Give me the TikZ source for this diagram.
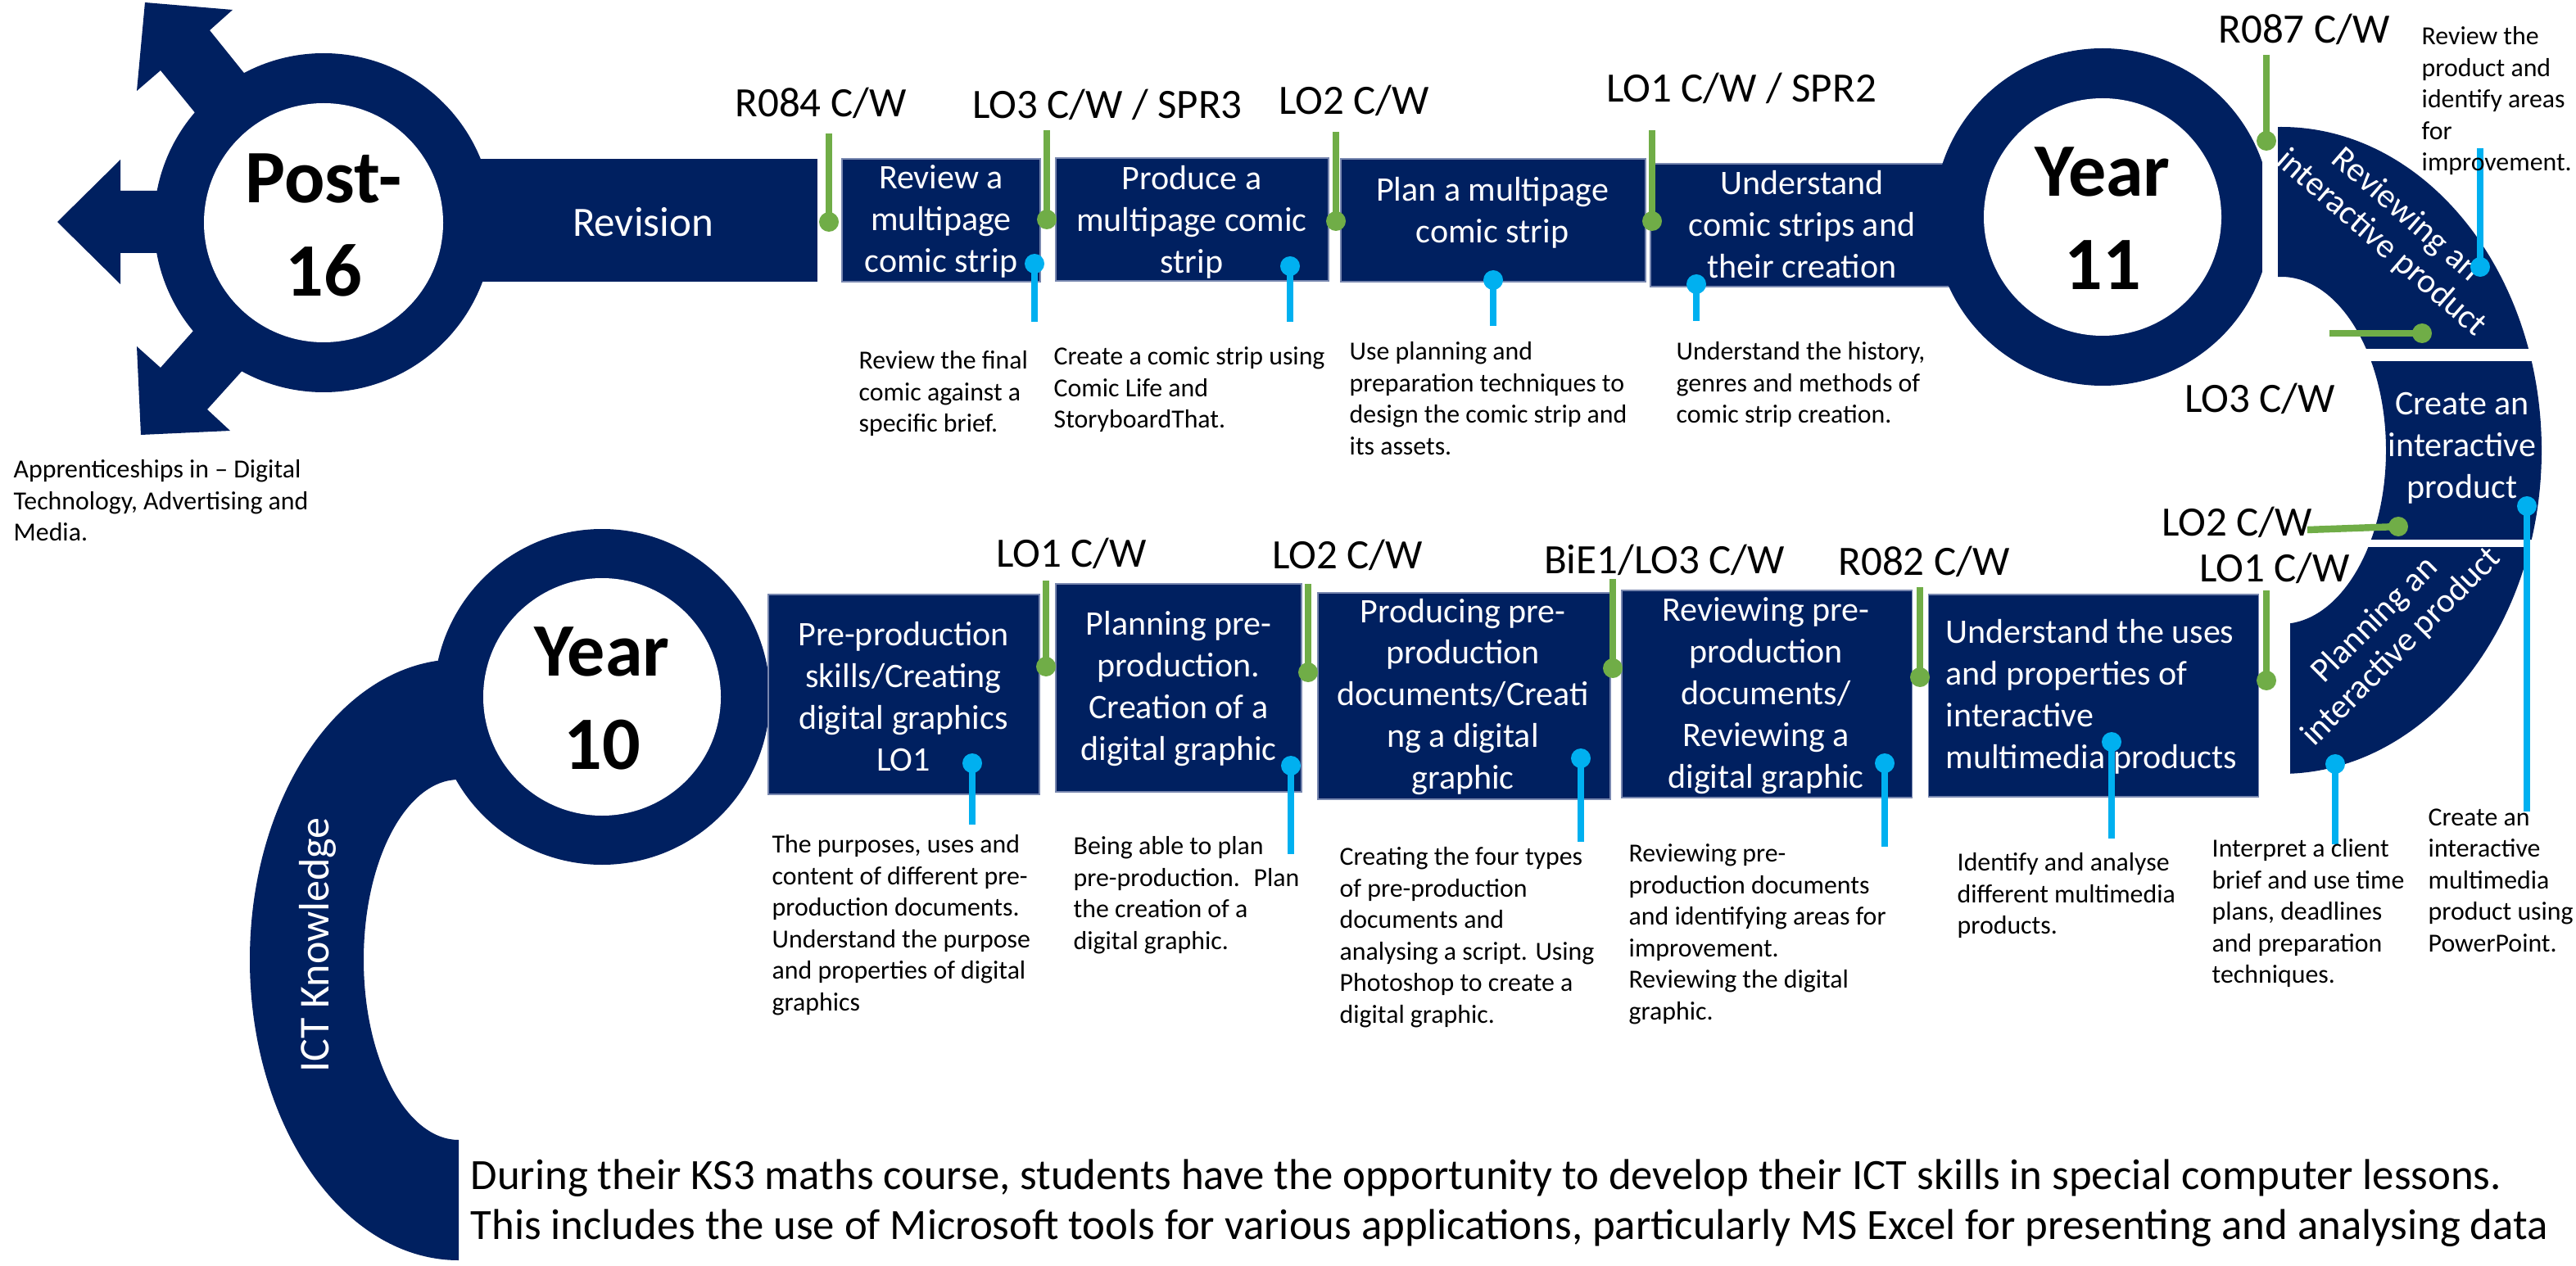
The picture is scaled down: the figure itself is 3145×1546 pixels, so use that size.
\documentclass[tikz,border=0pt]{standalone}
\usepackage{fontspec}
\setmainfont{Carlito}
\definecolor{navy}{HTML}{002060}
\definecolor{pgreen}{HTML}{70AD47}
\definecolor{pblue}{HTML}{00B0F0}
\definecolor{boxedge}{RGB}{120,135,175}
\tikzset{
  boxtxt/.style={text=white, align=center, inner sep=0pt, font=\fontsize{11.95}{14.5}\selectfont},
  lbl/.style={inner sep=0pt, font=\fontsize{14.5}{17}\selectfont},
  desc/.style={inner sep=0pt, align=left, anchor=north west, font=\fontsize{9.05}{10.95}\selectfont},
  yeartxt/.style={inner sep=0pt, align=center, font=\fontsize{26.2}{32.4}\selectfont\bfseries},
  gpin/.style={draw=pgreen, line width=2.4pt},
  bpin/.style={draw=pblue, line width=2.1pt},
  boxfill/.style={fill=navy, draw=boxedge, line width=0.3pt},
}
\begin{document}
\begin{tikzpicture}[x=0.01cm,y=-0.01cm]
\useasboundingbox (0,0) rectangle (3145,1546);
\fill[white] (0,0) rectangle (3145,1546);

% ---------- Post-16 ----------
\fill[navy] (395,233) -- (147,233) -- (147,195) -- (70,271) -- (147,347) -- (147,309) -- (395,309) -- cycle;
\fill[navy] (177,3) -- (284,12) -- (256,37) -- (322,119) -- (262,167) -- (196,86) -- (167,111) -- cycle;
\fill[navy] (172,531) -- (281,526) -- (253,500) -- (319,427) -- (260,377) -- (196,449) -- (167,423) -- cycle;
\fill[navy] (395,194) rectangle (998,344);
\fill[navy] (395,272) circle (207);
\fill[white] (395,272) circle (146);
\node[yeartxt] (post) at (395,275) {Post-\\16};
\node[text=white, inner sep=0pt, font=\fontsize{14.5}{17}\selectfont] (rev) at (785,271) {Revision};
\node[desc] (d13) at (16,561) {Apprenticeships in – Digital\\Technology, Advertising and\\Media.};

% ---------- top row boxes ----------
\path[boxfill] (1028,194) rectangle (1270,344);
\path[boxfill] (1289,193) rectangle (1622,343);
\path[boxfill] (1637,194) rectangle (2009,344);
\path[boxfill] (2015,200) rectangle (2566,350);
\node[boxtxt] (t1) at (1149,270) {Review a\\multipage\\comic strip};
\node[boxtxt] (t2) at (1455,271) {Produce a\\multipage comic\\strip};
\node[boxtxt] (t3) at (1822,260) {Plan a multipage\\comic strip};

% ---------- Year 11 ----------
\fill[navy] (2567,265) circle (206);
\fill[white] (2567,265) circle (145);
\fill[white] (2762,120) rectangle (2781,410);
\node[boxtxt] (t4) at (2200,274) {Understand\\comic strips and\\their creation};
\node[yeartxt] (y11) at (2567,267) {Year\\11};

% ---------- right arc pieces ----------
\begin{scope}
  \clip (2781,100) rectangle (3145,426);
  \fill[navy, even odd rule] (2785,550) ellipse [x radius=318, y radius=395] (2785,550) ellipse [x radius=128, y radius=212];
\end{scope}
\begin{scope}
  \clip (2781,442) rectangle (3145,658);
  \fill[navy, even odd rule] (2785,550) ellipse [x radius=318, y radius=395] (2785,550) ellipse [x radius=128, y radius=212];
\end{scope}
\begin{scope}
  \clip (2796,668) rectangle (3145,1000);
  \fill[navy, even odd rule] (2785,550) ellipse [x radius=318, y radius=395] (2785,550) ellipse [x radius=128, y radius=212];
\end{scope}
\node[boxtxt, rotate=-41, font=\fontsize{11.95}{13.1}\selectfont] (arcrev) at (2922,280) {Reviewing an\\interactive product};
\node[boxtxt] (arccre) at (3006,547) {Create an\\interactive\\product};
\node[boxtxt, rotate=45, font=\fontsize{11.95}{13.1}\selectfont] (arcpla) at (2916,774) {Planning an\\interactive product};

% ---------- Year 10 + ICT ----------
\begin{scope}
  \clip (0,700) rectangle (560,1546);
  \fill[navy, even odd rule] (560,1172) ellipse [x radius=255, y radius=367] (560,1172) ellipse [x radius=116, y radius=220];
\end{scope}
\fill[navy] (735,851) circle (205);
\fill[white] (735,851) circle (145);
\node[yeartxt] (y10) at (735,853) {Year\\10};
\node[text=white, inner sep=0pt, rotate=90, font=\fontsize{14.8}{17}\selectfont] (ict) at (388,1154) {ICT Knowledge};

% ---------- bottom row boxes ----------
\path[boxfill] (938,726) rectangle (1269,970);
\path[boxfill] (1289,713) rectangle (1589,967);
\path[boxfill] (1609,724) rectangle (1966,976);
\path[boxfill] (1980,721) rectangle (2334,974);
\path[boxfill] (2354,726) rectangle (2757,973);
\node[boxtxt] (tA) at (1103,851) {Pre-production\\skills/Creating\\digital graphics\\LO1};
\node[boxtxt] (tB) at (1439,841) {Planning pre-\\production.\\Creation of a\\digital graphic};
\node[boxtxt] (tC) at (1786,851) {Producing pre-\\production\\documents/Creati\\ng a digital\\graphic};
\node[boxtxt] (tD) at (2156,850) {Reviewing pre-\\production\\documents/\\Reviewing a\\digital graphic};
\node[boxtxt, align=left, anchor=west] (tE) at (2375,851) {Understand the uses\\and properties of\\interactive\\multimedia products};

% ---------- green pins ----------
\foreach \n/\x/\ya/\yb in {1/1012/163/271, 2/1278/159/268, 3/1631/161/270, 4/2017/159/270, 5/2767/67/172,
   8/2767/721/831, 9/2344/717/827, 10/1969/707/816, 11/1597/713/821, 12/1277/709/814}{
  \coordinate (g\n t) at (\x,\ya);
  \coordinate (g\n d) at (\x,\yb);
  \draw[gpin] (g\n t) -- (g\n d);
  \fill[pgreen] (g\n d) circle (12);
}
\coordinate (g6t) at (2844,407); \coordinate (g6d) at (2957,407);
\draw[gpin] (g6t) -- (g6d); \fill[pgreen] (g6d) circle (12);
\coordinate (g7t) at (2817,647); \coordinate (g7d) at (2928,643);
\draw[gpin] (g7t) -- (g7d); \fill[pgreen] (g7d) circle (12);

% ---------- blue pins ----------
\foreach \n/\x/\ya/\yb in {1/1263/322/393, 2/1575/325/393, 3/1823/342/398, 4/2071/347/392, 5/3028/326/181,
   6/3085/618/991, 7/2851/933/1031, 8/2578/906/1024, 9/2301/932/1034, 10/1930/926/1028, 11/1576/935/1043, 12/1187/932/1007}{
  \coordinate (b\n d) at (\x,\ya);
  \coordinate (b\n e) at (\x,\yb);
  \draw[bpin] (b\n d) -- (b\n e);
  \fill[pblue] (b\n d) circle (12);
}

% ---------- labels ----------
\node[lbl] (l1) at (1002,126) {R084 C/W};
\node[lbl] (l2) at (1352,128) {LO3 C/W / SPR3};
\node[lbl] (l3) at (1653,123) {LO2 C/W};
\node[lbl] (l4) at (2126,108) {LO1 C/W / SPR2};
\node[lbl] (l5) at (2813,36) {R087 C/W};
\node[lbl] (l6) at (2759,487) {LO3 C/W};
\node[lbl] (l7) at (2731,638) {LO2 C/W};
\node[lbl] (l8) at (2777,694) {LO1 C/W};
\node[lbl] (l9) at (2349,686) {R082 C/W};
\node[lbl] (l10) at (2032,684) {BiE1/LO3 C/W};
\node[lbl] (l11) at (1645,678) {LO2 C/W};
\node[lbl] (l12) at (1308,676) {LO1 C/W};

% ---------- descriptions ----------
\node[desc] (d1) at (1048,428) {Review the final\\comic against a\\specific brief.};
\node[desc] (d2) at (1286,423) {Create a comic strip using\\Comic Life and\\StoryboardThat.};
\node[desc] (d3) at (1647,417) {Use planning and\\preparation techniques to\\design the comic strip and\\its assets.};
\node[desc] (d4) at (2046,417) {Understand the history,\\genres and methods of\\comic strip creation.};
\node[desc] (d5) at (2956,32) {Review the\\product and\\identify areas\\for\\improvement.};
\node[desc] (d6) at (2964,987) {Create an\\interactive\\multimedia\\product using\\PowerPoint.};
\node[desc] (d7) at (2700,1024) {Interpret a client\\brief and use time\\plans, deadlines\\and preparation\\techniques.};
\node[desc] (d8) at (2389,1041) {Identify and analyse\\different multimedia\\products.};
\node[desc] (d9) at (1988,1030) {Reviewing pre-\\production documents\\and identifying areas for\\improvement.\\Reviewing the digital\\graphic.};
\node[desc] (d10) at (1635,1034) {Creating the four types\\of pre-production\\documents and\\analysing a script. Using\\Photoshop to create a\\digital graphic.};
\node[desc] (d11) at (1310,1021) {Being able to plan\\pre-production.~ Plan\\the creation of a\\digital graphic.};
\node[desc] (d12) at (942,1019) {The purposes, uses and\\content of different pre-\\production documents.\\Understand the purpose\\and properties of digital\\graphics};

% ---------- bottom text ----------
\node[inner sep=0pt, align=left, anchor=north west, font=\fontsize{15.0}{17.36}\selectfont] (bottom) at (574,1415)
  {During their KS3 maths course, students have the opportunity to develop their ICT skills in special computer lessons.\\
   This includes the use of Microsoft tools for various applications, particularly MS Excel for presenting and analysing data};
\end{tikzpicture}
\end{document}
